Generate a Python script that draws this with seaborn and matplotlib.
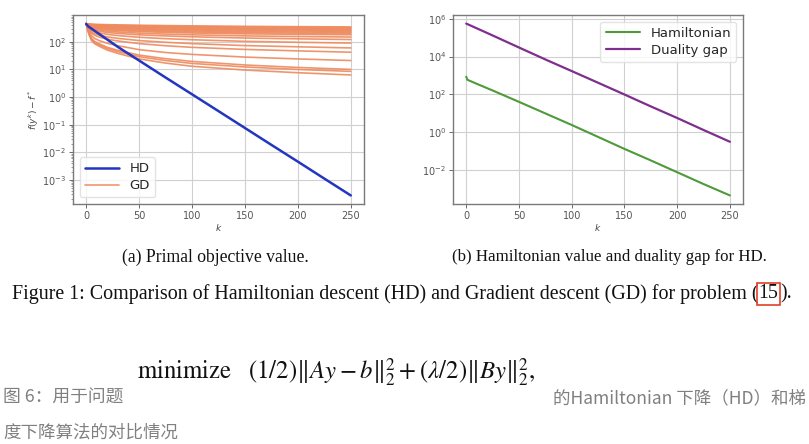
import matplotlib
matplotlib.use("Agg")
import matplotlib.pyplot as plt
import seaborn as sns
import pandas as pd
import numpy as np

# ---------------- data ----------------
hd_k = [0, 2, 5, 10, 20, 30, 50, 75, 100, 125, 150, 175, 200, 225, 250]
hd_val = [440, 360, 300, 220, 120, 65, 21, 5.1, 1.26, 0.31, 0.076, 0.0186, 0.0046, 0.00112, 2.75e-4]

gd_k = [0, 1, 2, 3, 5, 8, 12, 20, 30, 50, 75, 100, 150, 200, 250]
gd_runs = [
    [456, 300, 220, 170, 111, 85, 70, 50, 38, 24, 17, 13, 9.5, 7.6, 6.3],
    [456, 310, 232, 182, 122, 95, 78, 57, 44, 29, 21, 16.5, 12.3, 10, 8.5],
    [456, 318, 242, 192, 132, 103, 86, 63, 49, 33, 24.5, 19.5, 14.5, 11.8, 10],
    [456, 335, 270, 225, 165, 132, 112, 88, 72, 52, 41, 35, 28, 24, 21],
    [456, 355, 300, 260, 205, 172, 150, 124, 107, 86, 72, 63, 53, 47, 42],
    [456, 365, 315, 280, 230, 198, 177, 150, 133, 111, 96, 86, 73, 66, 60],
    [456, 378, 335, 305, 262, 232, 212, 186, 168, 146, 130, 119, 104, 96, 90],
    [456, 388, 352, 326, 288, 262, 243, 218, 201, 179, 163, 152, 137, 128, 121],
    [456, 396, 365, 342, 308, 284, 266, 243, 227, 206, 190, 179, 164, 155, 149],
    [456, 405, 378, 358, 328, 306, 290, 269, 254, 234, 219, 208, 194, 186, 180],
    [456, 412, 388, 370, 343, 323, 308, 288, 274, 254, 239, 228, 214, 206, 200],
    [456, 418, 397, 381, 357, 339, 325, 306, 293, 274, 259, 248, 234, 226, 220],
    [456, 424, 406, 392, 371, 355, 342, 325, 312, 294, 279, 268, 254, 246, 240],
    [456, 430, 415, 403, 385, 371, 359, 344, 332, 315, 300, 289, 274, 266, 260],
    [456, 436, 424, 414, 399, 387, 376, 362, 351, 335, 321, 310, 295, 286, 280],
    [456, 441, 432, 424, 412, 402, 393, 381, 371, 356, 343, 332, 316, 306, 300],
    [456, 446, 440, 434, 425, 417, 410, 400, 392, 379, 367, 357, 342, 332, 325],
    [456, 450, 446, 442, 436, 430, 425, 417, 410, 398, 387, 378, 363, 353, 346],
]

ham_k = [0, 1, 2, 10, 25, 50, 75, 100, 125, 150, 175, 200, 225, 250]
ham_val = [850, 600, 560, 360, 160, 40, 9.8, 2.4, 0.56, 0.13, 0.032, 0.0076, 0.0018, 4.5e-4]

gap_k = [0, 10, 25, 50, 75, 100, 125, 150, 175, 200, 225, 250]
gap_val = [5.5e5, 3.1e5, 1.3e5, 3.0e4, 7.0e3, 1.7e3, 410, 98, 23, 5.6, 1.3, 0.31]

x_ticks = [0, 50, 100, 150, 200, 250]
left_yticks = [1e-3, 1e-2, 1e-1, 1e0, 1e1, 1e2]
right_yticks = [1e-2, 1e0, 1e2, 1e4, 1e6]

caption_a = "(a) Primal objective value."
caption_b = "(b) Hamiltonian value and duality gap for HD."
fig_caption_1 = "Figure 1: Comparison of Hamiltonian descent (HD) and Gradient descent (GD) for problem ("
fig_caption_ref = "15"
fig_caption_2 = ")."
formula = r"minimize$\quad(1/2)\|Ay-b\|_2^2+(\lambda/2)\|By\|_2^2,$"
cn_1 = "图 6：用于问题"
cn_2 = "的Hamiltonian 下降（HD）和梯"
cn_3 = "度下降算法的对比情况"

# ---------------- style ----------------
sns.set_theme(style="whitegrid")
plt.rcParams["font.family"] = ["DejaVu Sans"]
plt.rcParams["mathtext.fontset"] = "dejavusans"

C_HD = "#2236c0"
C_GD = "#ee8a5e"
C_HAM = "#4e9a3a"
C_GAP = "#7e2f8e"

fig = plt.figure(figsize=(8.09, 4.44), dpi=100)
ax1 = fig.add_axes([0.0902, 0.5405, 0.3597, 0.4257])
ax2 = fig.add_axes([0.560, 0.5405, 0.3585, 0.4257])


def style_axes(ax):
    ax.set_facecolor("white")
    for s in ax.spines.values():
        s.set_visible(True)
        s.set_color("#7a7a7a")
        s.set_linewidth(1.0)
    ax.grid(True, color="#d0d0d0", linewidth=0.8)
    ax.tick_params(axis="both", which="major", labelsize=7, colors="#555555",
                   length=3, width=0.6, pad=2, left=True, bottom=True)
    ax.tick_params(axis="y", which="minor", length=1.5, width=0.5, colors="#777777", left=True)


# left panel
df_hd = pd.DataFrame({"k": hd_k, "v": hd_val})
for i, run in enumerate(gd_runs):
    d = pd.DataFrame({"k": gd_k, "v": run})
    sns.lineplot(data=d, x="k", y="v", ax=ax1, color=C_GD, linewidth=1.2, alpha=0.9,
                 label="GD" if i == 0 else None, legend=False)
sns.lineplot(data=df_hd, x="k", y="v", ax=ax1, color=C_HD, linewidth=1.8, label="HD", legend=False)
ax1.set_yscale("log")
ax1.set_xticks(x_ticks)
ax1.set_yticks(left_yticks)
ax1.yaxis.set_minor_locator(matplotlib.ticker.LogLocator(base=10, subs=np.arange(2, 10)))
ax1.set_xlabel("$k$", fontsize=6.5, color="#444444", labelpad=1)
ax1.set_ylabel(r"$f(y^k)-f^*$", fontsize=6.5, color="#444444", labelpad=1)
style_axes(ax1)
h, l = ax1.get_legend_handles_labels()
order = [l.index("HD"), l.index("GD")]
leg1 = ax1.legend([h[o] for o in order], [l[o] for o in order], loc="lower left",
                  fontsize=9.5, frameon=True, handlelength=2.6, borderpad=0.4,
                  labelspacing=0.3, handletextpad=0.8)
leg1.get_frame().set_edgecolor("#dddddd")

# right panel
df_ham = pd.DataFrame({"k": ham_k, "v": ham_val})
df_gap = pd.DataFrame({"k": gap_k, "v": gap_val})
sns.lineplot(data=df_ham, x="k", y="v", ax=ax2, color=C_HAM, linewidth=1.5, label="Hamiltonian", legend=False)
sns.lineplot(data=df_gap, x="k", y="v", ax=ax2, color=C_GAP, linewidth=1.6, label="Duality gap", legend=False)
ax2.set_yscale("log")
ax2.set_xticks(x_ticks)
ax2.set_yticks(right_yticks)
ax2.yaxis.set_minor_locator(matplotlib.ticker.NullLocator())
ax2.set_xlabel("$k$", fontsize=6.5, color="#444444", labelpad=1)
ax2.set_ylabel("")
style_axes(ax2)
leg2 = ax2.legend(loc="upper right", fontsize=9.5, frameon=True, handlelength=2.6,
                  borderpad=0.4, labelspacing=0.3, handletextpad=0.8)
leg2.get_frame().set_edgecolor("#dddddd")

# ---------------- captions ----------------
serif = ["Liberation Serif", "DejaVu Serif"]
fig.text(215 / 809, 1 - 257 / 444, caption_a, ha="center", va="center", fontsize=12.7,
         family=serif, color="#111111")
fig.text(609 / 809, 1 - 257 / 444, caption_b, ha="center", va="center", fontsize=12.2,
         family=serif, color="#111111")

fig.canvas.draw()
renderer = fig.canvas.get_renderer()
y_fig = 1 - 294 / 444
t1 = fig.text(12 / 809, y_fig, fig_caption_1, ha="left", va="center", fontsize=14.4,
              family=serif, color="#111111")
bb = t1.get_window_extent(renderer)
x2 = bb.x1 / fig.bbox.width
t2 = fig.text(x2, y_fig, fig_caption_ref, ha="left", va="center", fontsize=14.4,
              family=serif, color="#111111",
              bbox=dict(boxstyle="square,pad=0.08", facecolor="none", edgecolor="#e0402a", linewidth=1.2))
bb2 = t2.get_window_extent(renderer)
x3 = bb2.x1 / fig.bbox.width + 0.002
fig.text(x3, y_fig, fig_caption_2, ha="left", va="center", fontsize=14.4,
         family=serif, color="#111111")

# formula
fig.text(137 / 809, 1 - 372 / 444, formula, ha="left", va="center", fontsize=17.8,
         family=["STIXGeneral", "Liberation Serif"], color="#111111",
         math_fontfamily="stix")

cn_font = ["Noto Sans CJK SC", "DejaVu Sans"]
fig.text(3 / 809, 1 - 398 / 444, cn_1, ha="left", va="center", fontsize=12.8,
         family=cn_font, color="#808080")
fig.text(553 / 809, 1 - 398 / 444, cn_2, ha="left", va="center", fontsize=12.6,
         family=cn_font, color="#808080")
fig.text(3 / 809, 1 - 433 / 444, cn_3, ha="left", va="center", fontsize=12.6,
         family=cn_font, color="#808080")

fig.savefig("out.png", dpi=100)
